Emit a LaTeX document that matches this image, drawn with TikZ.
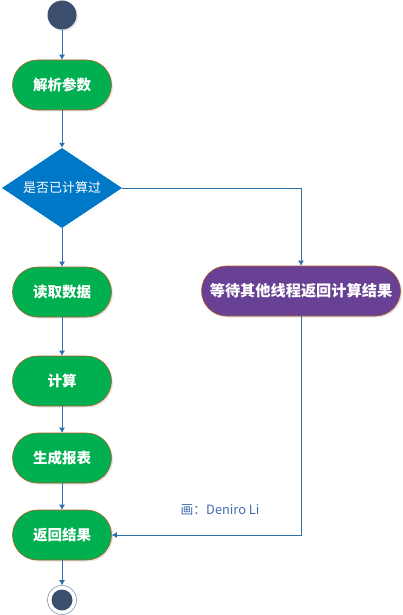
\documentclass[tikz,border=0pt]{standalone}
\usepackage{fontspec}
\usepackage{tikz}
\setmainfont{Noto Sans CJK SC}
\newfontfamily\cjk{Noto Sans CJK SC}
\definecolor{startc}{RGB}{59, 78, 110}
\definecolor{stepc}{RGB}{0, 176, 80}
\definecolor{edgec}{RGB}{176, 96, 40}
\definecolor{askc}{RGB}{0, 120, 200}
\definecolor{waitc}{RGB}{104, 64, 148}
\definecolor{linec}{RGB}{46, 112, 172}
\definecolor{notec}{RGB}{64, 108, 176}
\usetikzlibrary{arrows.meta}
\usetikzlibrary{shapes.geometric}
\usetikzlibrary{shadows}
\tikzset{
  stepbox/.style={rectangle, rounded corners=25pt, minimum width=99pt, minimum height=50pt, fill=stepc, draw=edgec, line width=0.6pt, text=white, font=\cjk\bfseries\fontsize{14.5}{16}\selectfont, drop shadow={opacity=0.2, shadow xshift=1.5pt, shadow yshift=-1.5pt}},
  flow/.style={line width=0.8pt, color=linec, -{Latex[length=5pt, width=6pt]}}
}

\begin{document}
\begin{tikzpicture}
\useasboundingbox (0pt, 0pt) rectangle (402pt, -615pt);
\node (start) [circle, minimum size=29pt, inner sep=0pt, fill=startc, drop shadow={opacity=0.2, shadow xshift=1.5pt, shadow yshift=-1.5pt}] at (62pt, -15pt) {};
\node (parse) [stepbox] at (62pt, -85pt) {解析参数};
\node (check) [diamond, aspect=1.5, minimum width=120pt, minimum height=80pt, inner sep=0pt, fill=askc, text=white, font=\cjk\fontsize{13}{15}\selectfont] at (62pt, -188pt) {是否已计算过};
\node (read) [stepbox] at (62pt, -292pt) {读取数据};
\node (wait) [stepbox, minimum width=199pt, fill=waitc, font=\cjk\bfseries\fontsize{15.2}{17}\selectfont] at (301pt, -291pt) {等待其他线程返回计算结果};
\node (calc) [stepbox] at (62pt, -381pt) {计算};
\node (report) [stepbox] at (62pt, -458pt) {生成报表};
\node (ret) [stepbox] at (62pt, -535pt) {返回结果};
\node (stop) [circle, minimum size=29pt, inner sep=0pt, draw=startc!60, line width=0.6pt, fill=white] at (62pt, -600pt) {};
\node (stopdot) [circle, minimum size=21pt, inner sep=0pt, fill=startc] at (stop) {};
\node (note) [text=notec, font=\cjk\fontsize{12.8}{15}\selectfont] at (220pt, -510pt) {画：Deniro Li};
\draw [flow] (start) to (parse);
\draw [flow] (parse) to (check);
\draw [flow] (check) to (read);
\draw [flow] (check.east) -| (wait);
\draw [flow] (read) to (calc);
\draw [flow] (calc) to (report);
\draw [flow] (report) to (ret);
\draw [flow] (wait) |- (ret);
\draw [flow] (ret) to (stop);
\end{tikzpicture}
\end{document}
